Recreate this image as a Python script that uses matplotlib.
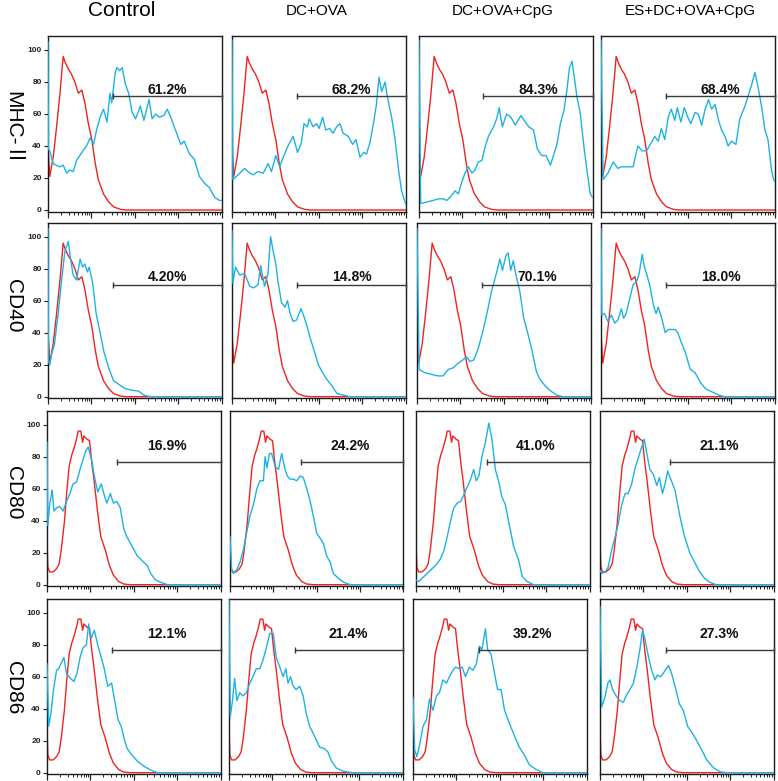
import matplotlib
matplotlib.use("Agg")
import matplotlib.pyplot as plt
from matplotlib.ticker import LogLocator, NullFormatter, FixedLocator

# ---------------- data (x in log decades of fluorescence, y = % of max) -------------
GROUPS = ["Control", "DC+OVA", "DC+OVA+CpG", "ES+DC+OVA+CpG"]
MARKERS = ["MHC-Ⅱ", "CD40", "CD80", "CD86"]
Y_TICKS = [0, 20, 40, 60, 80, 100]

# isotype (red) histograms
ISO_MHC_CD40 = [(0, 40), (0.04, 21), (0.12, 33), (0.19, 50), (0.27, 71), (0.35, 96), (0.40, 92),
                (0.47, 88), (0.54, 85), (0.62, 80), (0.70, 73), (0.78, 75), (0.85, 67), (0.93, 54),
                (1.01, 44), (1.09, 29), (1.16, 19), (1.28, 10), (1.40, 5), (1.51, 2), (1.67, 0.4),
                (1.80, 0), (4.0, 0)]
ISO_CD80_CD86 = [(0, 28), (0.02, 11), (0.06, 8), (0.14, 8), (0.22, 10), (0.28, 13), (0.33, 22),
                 (0.40, 39), (0.45, 56), (0.51, 74), (0.57, 81), (0.62, 85), (0.68, 91), (0.72, 96),
                 (0.78, 96), (0.82, 89), (0.85, 93), (0.92, 91), (0.98, 90), (1.03, 77), (1.09, 64),
                 (1.16, 47), (1.24, 30), (1.34, 22), (1.44, 12), (1.53, 6), (1.65, 2), (1.77, 0.4),
                 (1.92, 0), (4.0, 0)]

# stained (blue) histograms
MHC_CONTROL = [(0, 105), (0.01, 38), (0.04, 37), (0.12, 29), (0.19, 28), (0.27, 27), (0.35, 28),
               (0.43, 23), (0.50, 25), (0.58, 24), (0.66, 31), (0.78, 36), (0.89, 40), (0.97, 45),
               (1.05, 41), (1.12, 50), (1.20, 58), (1.28, 63), (1.36, 55), (1.43, 73), (1.47, 67),
               (1.55, 86), (1.59, 89), (1.65, 87), (1.71, 89), (1.78, 79), (1.86, 73), (1.94, 61),
               (2.02, 57), (2.13, 65), (2.21, 56), (2.33, 69), (2.40, 57), (2.48, 60), (2.56, 58),
               (2.67, 59), (2.75, 63), (2.83, 58), (2.91, 52), (2.98, 47), (3.06, 41), (3.14, 43),
               (3.26, 35), (3.37, 32), (3.49, 21), (3.60, 17), (3.72, 14), (3.84, 8), (3.95, 6),
               (4.0, 6)]
MHC_DCOVA = [(0, 106), (0.02, 19), (0.10, 21), (0.18, 23), (0.29, 26), (0.41, 23), (0.49, 22),
             (0.60, 24), (0.72, 23), (0.83, 29), (0.91, 24), (1.01, 34), (1.10, 27), (1.18, 33),
             (1.29, 40), (1.41, 46), (1.51, 36), (1.60, 42), (1.66, 54), (1.74, 52), (1.78, 57),
             (1.87, 52), (1.95, 54), (2.01, 51), (2.09, 58), (2.16, 50), (2.25, 51), (2.33, 48),
             (2.41, 52), (2.49, 54), (2.56, 48), (2.68, 46), (2.78, 41), (2.86, 44), (2.95, 33),
             (3.04, 36), (3.10, 35), (3.18, 42), (3.26, 54), (3.33, 66), (3.39, 83), (3.45, 74),
             (3.53, 80), (3.58, 71), (3.68, 58), (3.76, 44), (3.84, 25), (3.91, 12), (4.0, 4)]
MHC_CPG = [(0, 106), (0.04, 4), (0.18, 5), (0.33, 6), (0.45, 7), (0.56, 7), (0.64, 6), (0.75, 9),
           (0.83, 12), (0.91, 10), (0.98, 17), (1.06, 23), (1.14, 27), (1.22, 23), (1.29, 25),
           (1.37, 30), (1.45, 31), (1.52, 39), (1.60, 46), (1.72, 52), (1.79, 57), (1.85, 64),
           (1.92, 52), (2.02, 60), (2.12, 58), (2.22, 53), (2.35, 59), (2.45, 55), (2.53, 52),
           (2.64, 50), (2.73, 38), (2.83, 34), (2.93, 34), (3.03, 28), (3.10, 34), (3.18, 41),
           (3.26, 54), (3.34, 62), (3.41, 75), (3.47, 89), (3.53, 93), (3.58, 83), (3.64, 71),
           (3.72, 60), (3.80, 40), (3.88, 23), (3.95, 10), (4.0, 8)]
MHC_ES = [(0, 106), (0.05, 19), (0.16, 23), (0.28, 30), (0.39, 26), (0.47, 27), (0.58, 27),
          (0.74, 27), (0.85, 40), (0.95, 37), (1.05, 37), (1.16, 42), (1.24, 46), (1.32, 43),
          (1.39, 51), (1.47, 44), (1.55, 58), (1.62, 63), (1.70, 56), (1.76, 64), (1.84, 55),
          (1.92, 64), (2.00, 58), (2.07, 54), (2.17, 61), (2.24, 60), (2.32, 53), (2.40, 63),
          (2.48, 69), (2.55, 63), (2.63, 66), (2.71, 56), (2.78, 50), (2.86, 46), (2.93, 40),
          (3.01, 43), (3.11, 41), (3.20, 57), (3.32, 65), (3.39, 71), (3.47, 78), (3.55, 86),
          (3.62, 77), (3.70, 65), (3.78, 50), (3.85, 44), (3.93, 25), (3.98, 19), (4.0, 18)]

CD40_CONTROL = [(0, 105), (0.01, 22), (0.04, 20), (0.08, 26), (0.15, 33), (0.23, 51), (0.31, 72),
                (0.39, 91), (0.47, 97), (0.52, 86), (0.58, 76), (0.66, 73), (0.74, 86), (0.80, 81),
                (0.85, 83), (0.91, 78), (0.95, 81), (1.03, 71), (1.11, 52), (1.20, 40), (1.29, 28),
                (1.40, 18), (1.51, 10), (1.67, 7), (1.78, 5), (1.94, 4), (2.09, 3.5), (2.21, 1),
                (2.36, 0), (4.0, 0)]
CD40_DCOVA = [(0, 104), (0.02, 71), (0.08, 81), (0.18, 76), (0.29, 77), (0.41, 69), (0.50, 68),
              (0.60, 70), (0.66, 82), (0.75, 69), (0.83, 77), (0.89, 100), (0.95, 91), (1.01, 83),
              (1.06, 72), (1.14, 59), (1.22, 56), (1.28, 60), (1.34, 52), (1.41, 47), (1.49, 48),
              (1.59, 55), (1.66, 50), (1.72, 45), (1.80, 37), (1.88, 30), (1.99, 20), (2.07, 16),
              (2.18, 11), (2.30, 7), (2.42, 2), (2.57, 1), (2.72, 0), (4.0, 0)]
CD40_CPG = [(0, 105), (0.05, 17), (0.18, 15), (0.33, 14), (0.48, 13), (0.60, 13), (0.72, 17),
            (0.83, 18), (0.95, 21), (1.06, 23), (1.14, 25), (1.22, 22), (1.31, 23), (1.41, 30),
            (1.52, 41), (1.62, 53), (1.72, 66), (1.83, 77), (1.91, 86), (1.97, 79), (2.05, 88),
            (2.10, 90), (2.16, 79), (2.22, 85), (2.29, 75), (2.37, 66), (2.46, 49), (2.56, 39),
            (2.66, 28), (2.75, 16), (2.83, 11), (2.95, 7), (3.06, 4), (3.22, 1), (3.37, 0), (4.0, 0)]
CD40_ES = [(0, 105), (0.02, 51), (0.08, 52), (0.16, 47), (0.24, 51), (0.32, 46), (0.39, 48),
           (0.47, 55), (0.52, 49), (0.58, 52), (0.66, 61), (0.74, 70), (0.82, 72), (0.88, 77),
           (0.95, 89), (1.00, 81), (1.05, 77), (1.13, 69), (1.21, 57), (1.27, 52), (1.32, 56),
           (1.40, 49), (1.48, 40), (1.55, 42), (1.63, 42), (1.71, 42), (1.77, 40), (1.85, 34),
           (1.94, 28), (2.06, 17), (2.17, 15), (2.29, 9), (2.41, 5), (2.56, 3), (2.72, 1),
           (2.84, 0), (4.0, 0)]

CD80_CONTROL = [(0, 89), (0.02, 37), (0.06, 50), (0.10, 56), (0.12, 59), (0.16, 46), (0.22, 48),
                (0.29, 49), (0.37, 46), (0.45, 52), (0.53, 57), (0.60, 63), (0.68, 64), (0.76, 72),
                (0.84, 79), (0.90, 84), (0.95, 86), (1.03, 78), (1.09, 68), (1.17, 58), (1.25, 63),
                (1.32, 56), (1.38, 51), (1.46, 57), (1.53, 51), (1.61, 52), (1.69, 48), (1.77, 35),
                (1.84, 30), (1.92, 26), (2.00, 22), (2.08, 18), (2.16, 16), (2.23, 14), (2.31, 12),
                (2.39, 7), (2.50, 3), (2.62, 1.5), (2.78, 0), (4.0, 0)]
CD80_DCOVA = [(0, 30), (0.04, 9), (0.08, 7), (0.15, 9), (0.23, 14), (0.31, 22), (0.38, 32),
              (0.46, 43), (0.54, 50), (0.62, 60), (0.69, 65), (0.77, 65), (0.81, 80), (0.85, 73),
              (0.91, 82), (0.96, 82), (1.04, 74), (1.12, 72), (1.19, 82), (1.27, 72), (1.32, 68),
              (1.38, 66), (1.46, 66), (1.54, 65), (1.62, 68), (1.69, 67), (1.77, 60), (1.85, 52),
              (1.92, 43), (2.00, 32), (2.08, 29), (2.15, 26), (2.23, 18), (2.31, 14), (2.38, 7),
              (2.50, 4), (2.62, 1.5), (2.77, 0), (4.0, 0)]
CD80_CPG = [(0, 3), (0.06, 2), (0.18, 5), (0.33, 9), (0.45, 12), (0.56, 16), (0.64, 21), (0.72, 30),
            (0.79, 39), (0.87, 48), (0.95, 51), (1.03, 52), (1.10, 56), (1.18, 61), (1.26, 66),
            (1.33, 72), (1.39, 65), (1.45, 68), (1.52, 80), (1.60, 89), (1.68, 101), (1.75, 91),
            (1.83, 72), (1.91, 64), (1.98, 55), (2.06, 50), (2.14, 39), (2.25, 24), (2.37, 15),
            (2.45, 5), (2.56, 2), (2.71, 0), (4.0, 0)]
CD80_ES = [(0, 9), (0.04, 7), (0.12, 8), (0.19, 11), (0.27, 22), (0.35, 30), (0.42, 38), (0.50, 50),
           (0.58, 57), (0.65, 57), (0.73, 63), (0.81, 73), (0.88, 79), (0.96, 86), (1.02, 91),
           (1.08, 82), (1.15, 72), (1.23, 69), (1.31, 62), (1.37, 67), (1.44, 57), (1.50, 63),
           (1.56, 71), (1.63, 66), (1.73, 59), (1.84, 43), (1.95, 30), (2.07, 20), (2.18, 14),
           (2.30, 8), (2.41, 4), (2.53, 1.5), (2.68, 0), (4.0, 0)]

CD86_CONTROL = [(0, 68), (0.04, 29), (0.09, 37), (0.15, 52), (0.22, 64), (0.27, 65), (0.32, 68),
                (0.39, 72), (0.45, 62), (0.54, 59), (0.62, 57), (0.69, 62), (0.77, 73), (0.83, 78),
                (0.91, 80), (0.96, 93), (1.02, 84), (1.09, 89), (1.17, 80), (1.25, 72), (1.32, 65),
                (1.40, 54), (1.49, 56), (1.56, 45), (1.64, 33), (1.71, 29), (1.79, 20), (1.85, 15),
                (1.96, 11), (2.09, 7), (2.24, 4), (2.39, 1.7), (2.55, 0), (4.0, 0)]
CD86_DCOVA = [(0, 108), (0.03, 35), (0.08, 45), (0.13, 59), (0.18, 45), (0.25, 50), (0.32, 48),
              (0.40, 50), (0.48, 56), (0.55, 60), (0.63, 65), (0.71, 65), (0.78, 70), (0.86, 78),
              (0.94, 87), (1.02, 87), (1.09, 72), (1.17, 66), (1.25, 60), (1.31, 65), (1.36, 56),
              (1.42, 60), (1.48, 54), (1.55, 52), (1.63, 54), (1.71, 48), (1.78, 37), (1.86, 29),
              (1.97, 23), (2.09, 16), (2.20, 15), (2.28, 13), (2.35, 8), (2.47, 3), (2.62, 1),
              (2.85, 0), (4.0, 0)]
CD86_CPG = [(0, 47), (0.04, 14), (0.09, 10), (0.15, 17), (0.23, 29), (0.31, 33), (0.38, 46),
            (0.46, 39), (0.54, 48), (0.61, 50), (0.69, 58), (0.77, 56), (0.84, 60), (0.92, 64),
            (0.98, 66), (1.06, 65), (1.13, 66), (1.21, 60), (1.30, 66), (1.38, 64), (1.46, 68),
            (1.53, 79), (1.59, 77), (1.67, 90), (1.72, 77), (1.80, 74), (1.88, 62), (1.95, 52),
            (2.03, 52), (2.11, 39), (2.22, 31), (2.34, 23), (2.45, 16), (2.57, 11), (2.68, 5),
            (2.84, 2), (2.99, 0), (4.0, 0)]
CD86_ES = [(0, 104), (0.04, 41), (0.12, 48), (0.18, 56), (0.23, 58), (0.29, 52), (0.37, 48),
           (0.46, 45), (0.54, 44), (0.62, 49), (0.69, 52), (0.77, 56), (0.85, 66), (0.92, 77),
           (0.98, 89), (1.04, 83), (1.12, 72), (1.19, 64), (1.27, 58), (1.32, 61), (1.40, 60),
           (1.48, 63), (1.58, 67), (1.65, 62), (1.73, 54), (1.83, 43), (1.92, 39), (2.02, 29),
           (2.12, 25), (2.19, 22), (2.27, 18), (2.35, 14), (2.46, 8), (2.62, 3), (2.77, 0.6),
           (2.92, 0), (4.0, 0)]

ISOTYPES = [ISO_MHC_CD40, ISO_MHC_CD40, ISO_CD80_CD86, ISO_CD80_CD86]
STAINED = [[MHC_CONTROL, MHC_DCOVA, MHC_CPG, MHC_ES],
           [CD40_CONTROL, CD40_DCOVA, CD40_CPG, CD40_ES],
           [CD80_CONTROL, CD80_DCOVA, CD80_CPG, CD80_ES],
           [CD86_CONTROL, CD86_DCOVA, CD86_CPG, CD86_ES]]

PERCENTS = [["61.2%", "68.2%", "84.3%", "68.4%"],
            ["4.20%", "14.8%", "70.1%", "18.0%"],
            ["16.9%", "24.2%", "41.0%", "21.1%"],
            ["12.1%", "21.4%", "39.2%", "27.3%"]]
GATE_START = [[1.50, 1.51, 1.48, 1.49],
              [1.50, 1.49, 1.51, 1.49],
              [1.61, 1.64, 1.64, 1.62],
              [1.51, 1.53, 1.53, 1.52]]
GATE_LEVEL = [71, 70, 77, 77]

# ---------------- layout ----------------
W, H = 778, 781
RED = "#f02222"
BLUE = "#1db2e4"
ROW_ZERO_PX = [210, 396.7, 584.7, 772.7]
ROW_LEFTS_PX = [[48, 232, 419, 601],
                [48, 232, 417, 601],
                [47, 230, 416, 600],
                [47, 229, 413, 600]]
ROW_LABEL_Y_PX = [129, 306, 493, 688]
PANEL_W = 173.5
PX_PER_UNIT = 1.6
YMIN, YMAX = -1.0, 108.5
TEXT_OFFSET = [1.8, 2.5, 7, 7]

fig = plt.figure(figsize=(W / 100, H / 100), dpi=100)
FONT = ["Liberation Sans", "Noto Sans CJK SC", "DejaVu Sans"]


def unzip(pairs):
    return [10 ** p[0] for p in pairs], [p[1] for p in pairs]


for r in range(4):
    zero = ROW_ZERO_PX[r]
    bottom_px = zero - YMIN * PX_PER_UNIT
    top_px = zero - YMAX * PX_PER_UNIT
    for c in range(4):
        left = ROW_LEFTS_PX[r][c]
        ax = fig.add_axes([left / W, 1 - bottom_px / H, PANEL_W / W, (bottom_px - top_px) / H])
        ax.set_xscale("log")
        ax.set_xlim(1, 1e4)
        ax.set_ylim(YMIN, YMAX)
        xr, yr = unzip(ISOTYPES[r])
        ax.plot(xr, yr, color=RED, lw=1.0, zorder=2)
        xb, yb = unzip(STAINED[r][c])
        ax.plot(xb, yb, color=BLUE, lw=1.0, zorder=3)
        # gate
        g0 = 10 ** GATE_START[r][c]
        gy = GATE_LEVEL[r]
        ax.plot([g0, 1e4], [gy, gy], color="#3a3a3a", lw=1.0, zorder=4, clip_on=False,
                marker="|", markersize=5, markeredgewidth=1.0)
        ax.text(10 ** 2.76, gy + TEXT_OFFSET[r], PERCENTS[r][c], ha="center", va="baseline",
                fontsize=10, fontweight="bold", family=FONT, color="#111111", zorder=5)
        # axes styling
        for s in ax.spines.values():
            s.set_linewidth(1.0)
            s.set_color("#1a1a1a")
        ax.xaxis.set_major_locator(LogLocator(base=10, numticks=10))
        ax.xaxis.set_minor_locator(LogLocator(base=10, subs=range(2, 10), numticks=20))
        ax.xaxis.set_major_formatter(NullFormatter())
        ax.xaxis.set_minor_formatter(NullFormatter())
        ax.tick_params(axis="x", which="major", direction="out", length=4, width=0.9, color="#222")
        ax.tick_params(axis="x", which="minor", direction="out", length=2.2, width=0.7, color="#222")
        if c == 0:
            ax.yaxis.set_major_locator(FixedLocator(Y_TICKS))
            ax.tick_params(axis="y", direction="out", length=3, width=0.8, color="#222",
                           labelsize=6, pad=1.5, labelcolor="#222")
            for lab in ax.get_yticklabels():
                lab.set_fontweight("bold")
                lab.set_family(FONT)
        else:
            ax.set_yticks([])
    # row label
    fig.text(13 / W, 1 - ROW_LABEL_Y_PX[r] / H, MARKERS[r], rotation=270,
             ha="center", va="center", fontsize=15, family=FONT, color="black")

TITLE_X = [122, 317, 503, 690]
TITLE_SIZE = [15, 11, 11, 11]
for c in range(4):
    fig.text(TITLE_X[c] / W, 1 - 11 / H, GROUPS[c], ha="center", va="center",
             fontsize=TITLE_SIZE[c], family=FONT, color="black")

fig.savefig("out.png", dpi=100)
